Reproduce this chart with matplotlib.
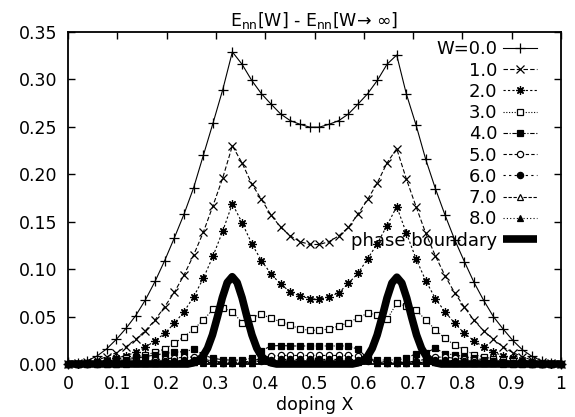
import numpy as np
import matplotlib
matplotlib.use("Agg")
import matplotlib.pyplot as plt

plt.rcParams['font.family'] = ['DejaVu Sans']
plt.rcParams['mathtext.fontset'] = 'dejavusans'

# doping grid: X = k / 51
n_sites = 51
doping = np.arange(n_sites + 1) / n_sites

w_labels = ["W=0.0", "1.0", "2.0", "3.0", "4.0", "5.0", "6.0", "7.0", "8.0"]

e_w0 = [0.0, 0.0008, 0.0035, 0.0084, 0.016, 0.026, 0.0376, 0.051, 0.0675, 0.087,
        0.109, 0.133, 0.158, 0.186, 0.220, 0.254, 0.289, 0.329,
        0.316, 0.299, 0.285, 0.274, 0.2635, 0.2565, 0.2527, 0.2497,
        0.2497, 0.2527, 0.2565, 0.2635, 0.274, 0.285, 0.299, 0.316,
        0.3257, 0.2846, 0.252, 0.2158, 0.185, 0.157, 0.131, 0.108, 0.086,
        0.067, 0.050, 0.037, 0.025, 0.015, 0.008, 0.0033, 0.0008, 0.0]
e_w1 = [0.0, 0.0008, 0.002, 0.004, 0.0077, 0.0119, 0.0182, 0.026, 0.0351, 0.0464,
        0.0604, 0.0756, 0.0938, 0.115, 0.139, 0.167, 0.196, 0.230,
        0.212, 0.190, 0.1736, 0.157, 0.144, 0.135, 0.129, 0.126,
        0.126, 0.129, 0.135, 0.144, 0.158, 0.1736, 0.191, 0.212,
        0.227, 0.195, 0.166, 0.138, 0.114, 0.093, 0.075, 0.060, 0.046,
        0.035, 0.026, 0.018, 0.012, 0.0077, 0.004, 0.002, 0.0008, 0.0]
e_w2 = [0.0, 0.0004, 0.0012, 0.0025, 0.0042, 0.0062, 0.0088, 0.0123, 0.0176, 0.0246,
        0.0323, 0.0429, 0.0552, 0.071, 0.0903, 0.1138, 0.140, 0.169,
        0.149, 0.127, 0.109, 0.095, 0.084, 0.076, 0.0717, 0.069,
        0.068, 0.071, 0.075, 0.085, 0.0956, 0.111, 0.127, 0.146,
        0.166, 0.138, 0.111, 0.088, 0.069, 0.055, 0.043, 0.0323, 0.0246,
        0.0176, 0.0123, 0.0088, 0.0062, 0.0042, 0.0025, 0.0012, 0.0004, 0.0]
e_w3 = [0.0, 0.0003, 0.001, 0.002, 0.003, 0.0045, 0.006, 0.0075, 0.0095, 0.0123,
        0.0158, 0.0218, 0.0288, 0.0366, 0.0464, 0.0577, 0.059, 0.0552,
        0.0436, 0.049, 0.0527, 0.048, 0.0446, 0.041, 0.037, 0.0355,
        0.0355, 0.037, 0.040, 0.0435, 0.0488, 0.0534, 0.052, 0.047,
        0.064, 0.061, 0.057, 0.0464, 0.0362, 0.027, 0.020, 0.0148, 0.010,
        0.0075, 0.0055, 0.004, 0.003, 0.002, 0.001, 0.0005, 0.0002, 0.0]
e_w4 = [0.0, 0.0002, 0.0006, 0.0012, 0.002, 0.003, 0.0045, 0.006, 0.0078, 0.0095,
        0.011, 0.0125, 0.013, 0.0155, 0.0095, 0.006, 0.0045, 0.004,
        0.0042, 0.006, 0.014, 0.019, 0.0195, 0.019, 0.019, 0.019,
        0.019, 0.019, 0.019, 0.019, 0.0155, 0.006, 0.0042, 0.0042,
        0.0042, 0.006, 0.011, 0.012, 0.0165, 0.011, 0.0095, 0.0078, 0.006,
        0.0045, 0.003, 0.002, 0.0012, 0.0006, 0.0003, 0.0001, 0.0, 0.0]
e_w5 = [0.0, 0.0001, 0.0003, 0.0006, 0.001, 0.0015, 0.002, 0.0028, 0.0036, 0.0045,
        0.0055, 0.0063, 0.007, 0.0075, 0.005, 0.003, 0.002, 0.002,
        0.002, 0.003, 0.006, 0.0085, 0.009, 0.009, 0.009, 0.009,
        0.009, 0.009, 0.009, 0.009, 0.0085, 0.006, 0.003, 0.002,
        0.002, 0.002, 0.003, 0.005, 0.0075, 0.007, 0.0063, 0.0055, 0.0045,
        0.0036, 0.0028, 0.002, 0.0015, 0.001, 0.0006, 0.0003, 0.0001, 0.0]
e_w6 = [0.0, 0.0001, 0.0002, 0.0004, 0.0006, 0.0009, 0.0012, 0.0016, 0.002, 0.0025,
        0.003, 0.0035, 0.004, 0.0042, 0.003, 0.002, 0.0015, 0.0015,
        0.0015, 0.002, 0.0035, 0.0045, 0.0048, 0.0048, 0.0048, 0.0048,
        0.0048, 0.0048, 0.0048, 0.0048, 0.0045, 0.0035, 0.002, 0.0015,
        0.0015, 0.0015, 0.002, 0.003, 0.0042, 0.004, 0.0035, 0.003, 0.0025,
        0.002, 0.0016, 0.0012, 0.0009, 0.0006, 0.0004, 0.0002, 0.0001, 0.0]
e_w7 = [0.0, 0.0, 0.0001, 0.0002, 0.0003, 0.0005, 0.0007, 0.0009, 0.0012, 0.0015,
        0.0018, 0.0021, 0.0024, 0.0026, 0.002, 0.0012, 0.001, 0.001,
        0.001, 0.0015, 0.0065, 0.003, 0.0028, 0.0028, 0.0028, 0.0028,
        0.0028, 0.0028, 0.0028, 0.0028, 0.003, 0.0065, 0.0015, 0.001,
        0.001, 0.001, 0.0012, 0.002, 0.0026, 0.0024, 0.0021, 0.0018, 0.0015,
        0.0012, 0.0009, 0.0007, 0.0005, 0.0003, 0.0002, 0.0001, 0.0, 0.0]
e_w8 = [0.0, 0.0, 0.0, 0.0001, 0.0002, 0.0003, 0.0004, 0.0006, 0.0008, 0.001,
        0.0012, 0.0014, 0.0016, 0.0018, 0.0014, 0.0008, 0.0006, 0.0006,
        0.0006, 0.0009, 0.004, 0.002, 0.0018, 0.0018, 0.0018, 0.0018,
        0.0018, 0.0018, 0.0018, 0.0018, 0.002, 0.004, 0.0009, 0.0006,
        0.0006, 0.0006, 0.0008, 0.0014, 0.0018, 0.0016, 0.0014, 0.0012, 0.001,
        0.0008, 0.0006, 0.0004, 0.0003, 0.0002, 0.0001, 0.0, 0.0, 0.0]

energies = [e_w0, e_w1, e_w2, e_w3, e_w4, e_w5, e_w6, e_w7, e_w8]

phase_x = [0.0, 0.243,
           0.253, 0.263, 0.273, 0.283, 0.293, 0.303, 0.313, 0.323, 0.333,
           0.343, 0.353, 0.363, 0.373, 0.383, 0.393, 0.403, 0.413,
           0.423, 0.577,
           0.587, 0.597, 0.607, 0.617, 0.627, 0.637, 0.647, 0.657, 0.667,
           0.677, 0.687, 0.697, 0.707, 0.717, 0.727, 0.737, 0.747,
           0.757, 1.0]
phase_y = [0.0, 0.0,
           0.0011, 0.0032, 0.0078, 0.0166, 0.0307, 0.0496, 0.0699, 0.0859, 0.0920,
           0.0859, 0.0699, 0.0496, 0.0307, 0.0166, 0.0078, 0.0032, 0.0011,
           0.0, 0.0,
           0.0011, 0.0032, 0.0077, 0.0165, 0.0305, 0.0493, 0.0695, 0.0854, 0.0915,
           0.0854, 0.0695, 0.0493, 0.0305, 0.0165, 0.0077, 0.0032, 0.0011,
           0.0, 0.0]

markers = ['+', 'x', (8, 2, 0), 's', 's', 'o', 'o', '^', '^']
filled = [True, True, True, False, True, False, True, False, True]
msizes = [7, 5.5, 6, 4.5, 4.5, 4.5, 4.5, 4.5, 4.5]
styles = ['-', (0, (4, 2)), (0, (2, 2)), (0, (1, 1.5)), (0, (4, 1.5, 1, 1.5)),
          (0, (3, 2)), (0, (2, 3)), (0, (3, 1.5)), (0, (1, 2))]

fig = plt.figure(figsize=(5.75, 4.17), dpi=100)
ax = fig.add_axes([0.1183, 0.1271, 0.8574, 0.7962])

for vals, lab, mk, fl, ms, ls in zip(energies, w_labels, markers, filled, msizes, styles):
    ax.plot(doping, vals, linestyle=ls, color='black', linewidth=0.8,
            marker=mk, markersize=ms, markeredgewidth=0.9,
            markerfacecolor='black' if fl else 'white',
            markeredgecolor='black', label=lab, clip_on=False)

ax.plot(phase_x, phase_y, color='black', linewidth=5.5, solid_joinstyle='round',
        solid_capstyle='butt', label='phase boundary', clip_on=False, zorder=5)

ax.set_xlim(0, 1)
ax.set_ylim(0, 0.35)
ax.set_xticks(np.arange(0, 1.01, 0.1))
ax.set_xticklabels(["0", "0.1", "0.2", "0.3", "0.4", "0.5", "0.6", "0.7", "0.8", "0.9", "1"])
ax.set_yticks(np.arange(0, 0.351, 0.05))
ax.set_yticklabels(["0.00", "0.05", "0.10", "0.15", "0.20", "0.25", "0.30", "0.35"])
ax.tick_params(direction='in', length=5, width=1, top=True, right=True,
               labelsize=12.5)
ax.tick_params(axis='x', pad=8)
ax.tick_params(axis='y', pad=8)
for sp in ax.spines.values():
    sp.set_linewidth(1.3)

ax.set_xlabel("doping X", fontsize=12.5, labelpad=2)
ax.set_title("E$_{\\mathrm{nn}}$[W] - E$_{\\mathrm{nn}}$[W\u2192 \u221e]",
             fontsize=12.5, pad=4)

leg = ax.legend(loc='upper right', bbox_to_anchor=(0.951, 0.975), frameon=False,
                markerfirst=False, fontsize=13, handlelength=1.9,
                handletextpad=0.3, labelspacing=0.18, borderpad=0,
                borderaxespad=0)

fig.savefig("out.png", dpi=100)
